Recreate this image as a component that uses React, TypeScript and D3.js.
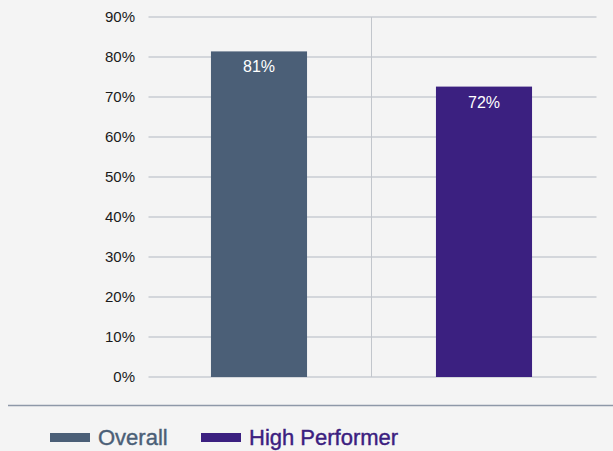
import React, { useEffect, useRef } from "react";
import * as d3 from "d3";

const categories = ["Overall", "High Performer"];
const values = [81.4, 72.6];
const barLabels = ["81%", "72%"];
const colors = ["#4b5f77", "#3b2080"];
const yTicks = [0, 10, 20, 30, 40, 50, 60, 70, 80, 90];

const FONT = "'Liberation Sans', Arial, Helvetica, sans-serif";

const App: React.FC = () => {
    const svgRef = useRef<SVGSVGElement | null>(null);

    useEffect(() => {
        if (!svgRef.current) return;
        const WIDTH = 613;
        const HEIGHT = 451;
        const M = { top: 17, left: 146.5, right: 16.5, bottom: 74 };
        const iH = HEIGHT - M.top - M.bottom;

        const root = d3.select(svgRef.current);
        root.selectAll("*").remove();
        root.attr("width", WIDTH).attr("height", HEIGHT);

        root.append("rect").attr("width", WIDTH).attr("height", HEIGHT).attr("fill", "#f4f4f4");

        const x = d3.scaleBand<string>()
            .domain(categories)
            .range([M.left, WIDTH - M.right])
            .paddingInner(0.573)
            .paddingOuter(0.2865);
        const y = d3.scaleLinear().domain([0, 90]).range([M.top + iH, M.top]);

        // ── Grid ───────────────────────────────────────────
        root.append("g")
            .selectAll("line")
            .data(yTicks)
            .enter()
            .append("line")
            .attr("x1", M.left + 2)
            .attr("x2", WIDTH - M.right)
            .attr("y1", (d) => y(d))
            .attr("y2", (d) => y(d))
            .attr("stroke", "#c9cdd3")
            .attr("stroke-width", 1.5);

        // separator between categories
        const mid = (M.left + WIDTH - M.right) / 2;
        root.append("line")
            .attr("x1", mid).attr("x2", mid)
            .attr("y1", y(90)).attr("y2", y(0))
            .attr("stroke", "#c2c6cc")
            .attr("stroke-width", 1);

        // ── Y labels ───────────────────────────────────────
        root.append("g")
            .selectAll("text")
            .data(yTicks)
            .enter()
            .append("text")
            .attr("x", 135)
            .attr("y", (d) => y(d))
            .attr("dy", "0.35em")
            .attr("text-anchor", "end")
            .attr("font-family", FONT)
            .attr("font-size", 15)
            .attr("fill", "#1a1a1a")
            .text((d) => `${d}%`);

        // ── Bars ───────────────────────────────────────────
        root.append("g")
            .selectAll("rect")
            .data(values)
            .enter()
            .append("rect")
            .attr("x", (_, i) => x(categories[i])!)
            .attr("width", x.bandwidth())
            .attr("y", (d) => y(d))
            .attr("height", (d) => y(0) - y(d))
            .attr("fill", (_, i) => colors[i]);

        root.append("g")
            .selectAll("text")
            .data(values)
            .enter()
            .append("text")
            .attr("x", (_, i) => x(categories[i])! + x.bandwidth() / 2)
            .attr("y", (d) => y(d) + 21)
            .attr("text-anchor", "middle")
            .attr("font-family", FONT)
            .attr("font-size", 16)
            .attr("fill", "#ffffff")
            .text((_, i) => barLabels[i]);

        // ── Bottom rule ────────────────────────────────────
        root.append("line")
            .attr("x1", 8).attr("x2", WIDTH)
            .attr("y1", 405.5).attr("y2", 405.5)
            .attr("stroke", "#8e98a8")
            .attr("stroke-width", 1.5);

        // ── Legend ─────────────────────────────────────────
        const legendX = [50, 201];
        const lg = root.append("g");
        categories.forEach((c, i) => {
            lg.append("rect")
                .attr("x", legendX[i])
                .attr("y", 433)
                .attr("width", 40)
                .attr("height", 9)
                .attr("fill", colors[i]);
            lg.append("text")
                .attr("x", legendX[i] + 48)
                .attr("y", 445)
                .attr("font-family", FONT)
                .attr("font-size", 22)
                .attr("fill", colors[i])
                .attr("stroke", colors[i])
                .attr("stroke-width", 0.4)
                .text(c);
        });
    }, []);

    return (
        <div style={{ position: "absolute", left: 0, top: 0, width: 613, height: 451 }}>
            <svg ref={svgRef} style={{ display: "block" }} />
        </div>
    );
};

export default App;
